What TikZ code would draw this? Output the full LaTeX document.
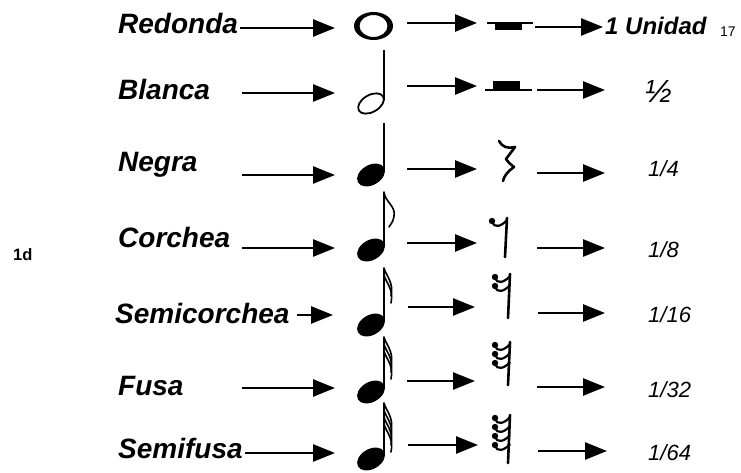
\documentclass[tikz,border=0pt]{standalone}
\usepackage{fontspec}
\setmainfont{Liberation Sans}
\usetikzlibrary{arrows.meta}

\tikzset{
  flecha/.style={line width=2.6pt, -{Triangle[length=22pt,width=17pt]}},
  nombre/.style={anchor=base west, inner sep=0pt, font=\fontsize{28}{30}\selectfont\bfseries\itshape},
  valor/.style={anchor=base west, inner sep=0pt, font=\fontsize{22}{24}\selectfont\itshape},
  plica/.style={line width=1.8pt},
  corchete/.style={line width=1.6pt, line cap=round},
  plicasil/.style={line width=2.6pt, line cap=round, line join=round},
}

% cabeza de nota rellena, centro x y
\newcommand{\cabeza}[2]{\fill[rotate around={30:(#1,#2)}] (#1,#2) ellipse [x radius=15pt, y radius=10pt];}
% silencio con ganchos: x, arriba, abajo, numero de ganchos
\newcommand{\figsilencio}[4]{%
  \draw[plicasil] (#1+15,#2) -- (#1+13,#3);
  \foreach \k in {1,...,#4}{
    \pgfmathsetmacro{\yg}{#2+3+9*(\k-1)}
    \fill (#1,\yg) circle (3.2pt);
    \draw[line width=2.2pt] (#1,\yg+1) .. controls (#1+2,\yg+7) and (#1+9,\yg+6) .. (#1+15,\yg-1);
  }
}

\begin{document}
\begin{tikzpicture}[x=1pt, y=-1pt]
  \fill[white] (0,0) rectangle (741,473);
  \useasboundingbox (0,0) rectangle (741,473);

  % nombres de las figuras
  \node[nombre] (redonda) at (118,34) {Redonda};
  \node[nombre] (blanca) at (118,100) {Blanca};
  \node[nombre] (negra) at (118,172) {Negra};
  \node[nombre] (corchea) at (118,247) {Corchea};
  \node[nombre] (semicorchea) at (115,323) {Semicorchea};
  \node[nombre] (fusa) at (118,395) {Fusa};
  \node[nombre] (semifusa) at (118,458) {Semifusa};

  % valores
  \node[valor, font=\fontsize{24}{26}\selectfont\bfseries\itshape] (unidad) at (605,35) {1 Unidad};
  \node[valor, font=\fontsize{32}{34}\selectfont\itshape] (mitad) at (645,103) {½};
  \node[valor] (cuarto) at (648,177) {1/4};
  \node[valor] (octavo) at (648,257) {1/8};
  \node[valor] (dieciseisavo) at (648,322) {1/16};
  \node[valor] (treintaidosavo) at (648,397) {1/32};
  \node[valor] (sesentaicuatroavo) at (648,460) {1/64};

  % numeros sueltos
  \node[anchor=base west, inner sep=0pt, font=\fontsize{14}{16}\selectfont] (pagina) at (720,37) {17};
  \node[anchor=base west, inner sep=0pt, font=\fontsize{16.5}{18}\selectfont\bfseries] (marca) at (13,260) {1d};

  % flechas
  \foreach \n/\xa/\xb/\y in {1/240/335/28, 2/407/477/23, 3/535/603/27,
                             4/242/335/93, 5/407/477/86, 6/537/605/90,
                             7/242/335/175, 8/407/477/169, 9/537/605/173,
                             10/242/335/248, 11/407/477/243, 12/537/605/248,
                             13/297/333/315, 14/408/475/307, 15/538/605/313,
                             16/242/335/388, 17/407/475/381, 18/537/605/387,
                             19/245/335/453, 20/408/478/445, 21/538/607/451}{
    \coordinate (s\n) at (\xa,\y);
    \coordinate (e\n) at (\xb,\y);
    \draw[flecha] (s\n) -- (e\n);
  }

  % redonda
  \fill[even odd rule] (373.5,26) ellipse [x radius=19.5pt, y radius=14pt]
                       (373.5,26) ellipse [x radius=14pt, y radius=11pt];
  % blanca
  \draw[line width=1.8pt, rotate around={30:(371,103.5)}] (371,103.5) ellipse [x radius=14pt, y radius=8.5pt];
  \draw[plica] (384,50) -- (384,100);
  % negra
  \cabeza{371}{175}
  \draw[plica] (384,123) -- (384,172);
  % corchea
  \cabeza{371}{250}
  \draw[plica] (384,192) -- (384,247);
  \draw[corchete] (384,192) .. controls (385,202) and (396,206) .. (394,216)
                  .. controls (393,221) .. (389,227);
  % semicorchea
  \cabeza{371}{325}
  \draw[plica] (384,268) -- (384,322);
  \foreach \k in {0,1}
    \draw[corchete] (384,268+7*\k) .. controls (386,276+7*\k) and (394,282+7*\k) .. (391,296+7*\k);
  % fusa
  \cabeza{371}{392}
  \draw[plica] (384,337) -- (384,389);
  \foreach \k in {0,1,2}
    \draw[corchete] (384,337+7*\k) .. controls (386,345+7*\k) and (394,351+7*\k) .. (391,365+7*\k);
  % semifusa
  \cabeza{371}{459}
  \draw[plica] (384,403) -- (384,456);
  \foreach \k in {0,1,2,3}
    \draw[corchete] (384,403+7*\k) .. controls (386,411+7*\k) and (394,417+7*\k) .. (391,431+7*\k);

  % silencios de redonda y blanca
  \draw[line width=1.4pt] (487,23) -- (533,23);
  \fill (495,23) rectangle (522,30);
  \draw[line width=1.4pt] (485,90) -- (532,90);
  \fill (493,81) rectangle (520,90);
  % silencio de negra
  \draw[plicasil] (499,141) .. controls (502,147) and (508,149) .. (515,147)
                  -- (506,159) .. controls (509,163) .. (514,167)
                  .. controls (508,171) and (504,176) .. (503,181);
  % silencios con ganchos
  \figsilencio{492}{218}{257}{1}
  \figsilencio{495}{274}{318}{2}
  \figsilencio{495}{342}{385}{3}
  \figsilencio{495}{415}{463}{4}
\end{tikzpicture}
\end{document}
